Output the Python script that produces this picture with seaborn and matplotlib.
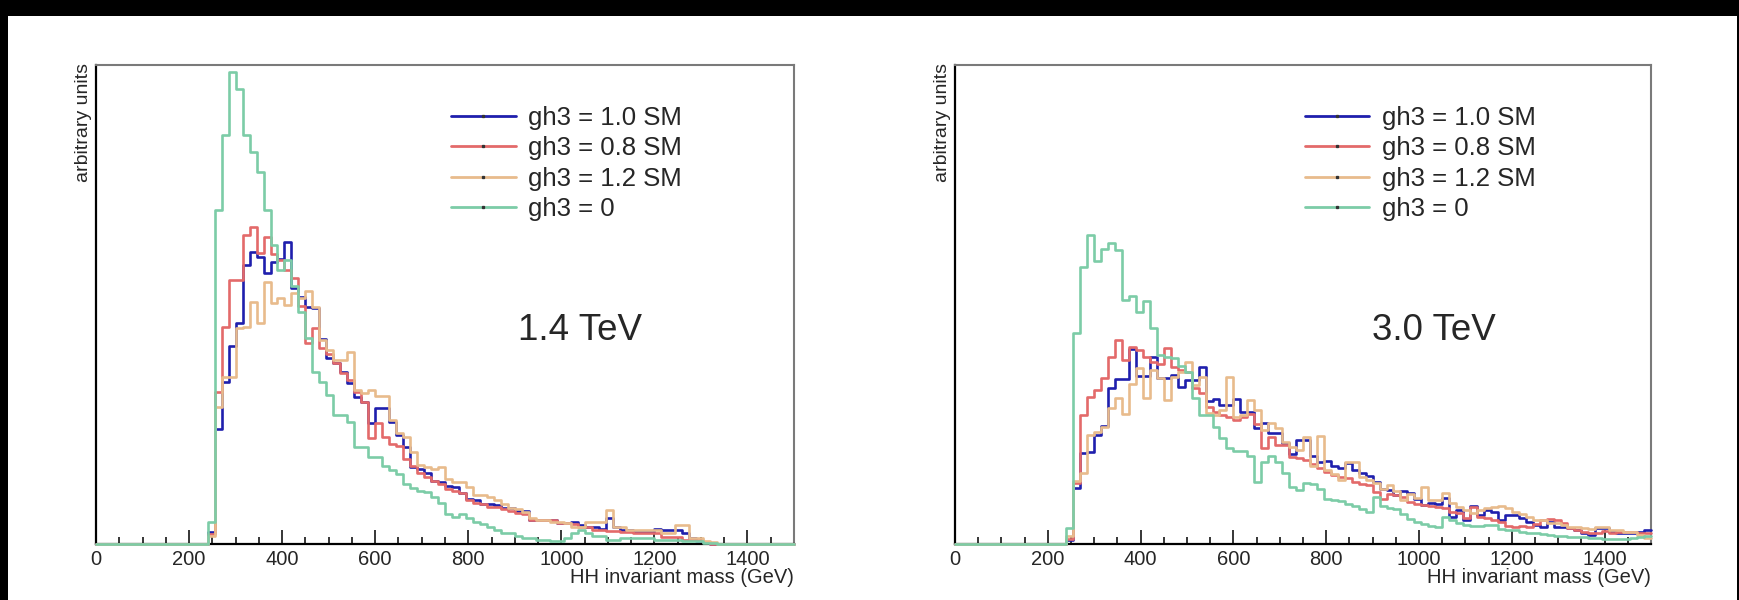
import numpy as np
import pandas as pd
import matplotlib
matplotlib.use("Agg")
import matplotlib.pyplot as plt
from matplotlib.lines import Line2D
from matplotlib.patches import Rectangle
from matplotlib.ticker import MultipleLocator
import seaborn as sns

sns.set_theme(style="white")
plt.rcParams["font.family"] = ["Liberation Sans", "DejaVu Sans"]

# Histogram binning: 100 bins of 15 GeV from 0 to 1500 GeV
BIN_WIDTH = 15.0
X_MAX = 1500.0
FIRST_BIN = 240.0  # lower edge of the first stored bin of every series

series_labels = ["gh3 = 1.0 SM", "gh3 = 0.8 SM", "gh3 = 1.2 SM", "gh3 = 0"]
series_colors = ["#1f1fad", "#e36a6a", "#e8bb8c", "#7ccca7"]
panel_titles = ["1.4 TeV", "3.0 TeV"]
x_ticks = [0, 200, 400, 600, 800, 1000, 1200, 1400]

# 1.4 TeV bin contents (arbitrary units), bins from 240 GeV upward
tev14_sm10 = [12, 115, 162, 198, 221, 279, 292, 287, 271, 282, 285, 302, 256, 247, 237,
              236, 205, 186, 181, 172, 161, 147, 142, 121, 136, 136, 122, 109, 97, 77,
              75, 71, 63, 62, 58, 57, 51, 45, 44, 40, 40, 39, 36, 36, 33,
              33, 24, 24, 24, 24, 21, 21, 22, 19, 17, 17, 15, 26, 17, 14,
              14, 12, 12, 12, 15, 14, 14, 14, 11, 6, 3, 2, 0]
tev14_sm08 = [10, 152, 217, 264, 264, 309, 317, 291, 307, 290, 284, 274, 266, 238, 201,
              216, 196, 190, 181, 171, 164, 152, 142, 106, 121, 107, 100, 98, 85, 78,
              71, 67, 63, 60, 55, 53, 51, 44, 41, 40, 37, 37, 35, 33, 31,
              30, 24, 24, 24, 24, 21, 21, 20, 17, 17, 14, 14, 13, 13, 12,
              12, 11, 11, 11, 11, 7, 7, 7, 4, 4, 4, 2, 0]
tev14_sm12 = [8, 137, 167, 167, 216, 217, 242, 221, 262, 241, 246, 239, 251, 246, 253,
              237, 204, 194, 184, 184, 192, 154, 151, 154, 148, 148, 124, 111, 107, 92,
              79, 77, 75, 77, 65, 62, 62, 57, 49, 49, 47, 44, 40, 36, 35,
              32, 26, 24, 24, 22, 22, 21, 17, 17, 22, 22, 22, 34, 17, 17,
              14, 14, 14, 14, 14, 11, 11, 19, 19, 6, 6, 3, 2]
tev14_zero = [22, 334, 409, 472, 455, 409, 392, 372, 334, 299, 274, 284, 258, 232, 206,
              172, 162, 149, 129, 129, 122, 97, 97, 87, 87, 78, 74, 70, 60, 56,
              53, 52, 47, 41, 30, 27, 30, 26, 22, 20, 17, 14, 11, 11, 8,
              6, 6, 4, 4, 3, 3, 6, 11, 14, 11, 8, 8, 4, 4, 6,
              6, 6, 6, 6, 4, 4, 4, 4, 3, 3, 3, 1, 1]

# 3.0 TeV bin contents (arbitrary units), bins from 240 GeV upward
tev30_sm10 = [4, 56, 91, 92, 109, 118, 156, 165, 165, 195, 168, 168, 187, 166, 166,
              169, 157, 164, 164, 177, 143, 145, 139, 139, 145, 132, 132, 116, 121, 111,
              111, 101, 90, 104, 104, 88, 82, 83, 78, 76, 81, 74, 71, 68, 62,
              55, 54, 49, 53, 51, 45, 39, 41, 40, 46, 27, 34, 24, 38, 29,
              34, 32, 24, 29, 29, 26, 22, 19, 17, 22, 17, 17, 16, 14, 11,
              9, 16, 16, 12, 11, 11, 11, 12, 14]
tev30_sm08 = [5, 61, 129, 147, 154, 166, 187, 204, 184, 197, 194, 187, 182, 180, 196,
              177, 174, 172, 156, 151, 137, 132, 129, 127, 124, 127, 130, 120, 96, 107,
              99, 99, 87, 86, 84, 80, 76, 72, 69, 67, 66, 62, 60, 59, 52,
              45, 50, 49, 47, 42, 40, 39, 38, 37, 36, 32, 31, 26, 37, 27,
              26, 24, 22, 18, 17, 18, 17, 20, 24, 25, 24, 21, 16, 14, 12,
              11, 11, 13, 11, 12, 12, 12, 11, 11]
tev30_sm12 = [8, 63, 71, 109, 112, 117, 136, 146, 130, 160, 176, 146, 174, 166, 144,
              167, 172, 182, 159, 167, 131, 129, 134, 167, 127, 129, 144, 134, 114, 121,
              116, 102, 97, 94, 107, 78, 108, 74, 70, 64, 82, 82, 67, 64, 61,
              55, 59, 53, 44, 50, 46, 57, 44, 44, 51, 41, 37, 34, 31, 34,
              36, 37, 38, 36, 32, 30, 27, 24, 24, 21, 21, 19, 17, 17, 16,
              15, 17, 17, 14, 14, 12, 12, 9, 6]
tev30_zero = [16, 211, 277, 309, 283, 295, 301, 294, 244, 248, 232, 243, 216, 189, 187,
              186, 178, 172, 146, 129, 129, 117, 106, 96, 93, 93, 88, 62, 82, 88,
              82, 71, 57, 54, 61, 60, 55, 45, 44, 43, 40, 38, 35, 32, 47,
              38, 36, 35, 30, 25, 22, 20, 18, 17, 27, 24, 21, 19, 18, 18,
              19, 19, 15, 14, 14, 12, 11, 11, 10, 9, 8, 8, 7, 7, 7,
              6, 6, 5, 5, 5, 5, 6, 7, 8]

panels = [
    [tev14_sm10, tev14_sm08, tev14_sm12, tev14_zero],
    [tev30_sm10, tev30_sm08, tev30_sm12, tev30_zero],
]

n_bins = int(round(X_MAX / BIN_WIDTH))
centers = BIN_WIDTH * (np.arange(n_bins) + 0.5)


def histogram_frame(contents):
    """Long-form table of bin centres and bin contents over the full axis range."""
    full = np.zeros(n_bins)
    start = int(round(FIRST_BIN / BIN_WIDTH))
    full[start:start + len(contents)] = contents
    return pd.DataFrame({"mass": centers, "content": full})


W, H = 1739, 600
fig = plt.figure(figsize=(W / 100, H / 100), dpi=100)
fig.patch.set_facecolor("white")


def axes_px(left, top, right, bottom):
    return fig.add_axes([left / W, 1 - bottom / H, (right - left) / W, (bottom - top) / H])


axes = [axes_px(96, 65, 794, 544), axes_px(955, 65, 1651, 544)]
legend_x = [0.509, 0.503]
title_x = [0.605, 0.599]

for ax, series, title, lx, tx in zip(axes, panels, panel_titles, legend_x, title_x):
    for contents, color in zip(series, series_colors):
        sns.histplot(data=histogram_frame(contents), x="mass", weights="content",
                     binwidth=BIN_WIDTH, binrange=(0.0, X_MAX), element="step",
                     fill=False, color=color, linewidth=1.9, ax=ax, zorder=3,
                     clip_on=False)

    ax.set_xlim(0, X_MAX)
    ax.set_ylim(0, 479)
    ax.set_xlabel("")
    ax.set_ylabel("")
    ax.set_yticks([])
    ax.set_xticks(x_ticks)
    ax.set_xticklabels([str(t) for t in x_ticks])
    ax.xaxis.set_minor_locator(MultipleLocator(50))
    ax.tick_params(axis="x", which="major", direction="in", length=10, width=1.1,
                   pad=4, labelsize=14.5, bottom=True, top=False, color="black")
    ax.tick_params(axis="x", which="minor", direction="in", length=5, width=1.1,
                   bottom=True, top=False, color="black")

    for side in ("left", "bottom"):
        ax.spines[side].set_color("black")
        ax.spines[side].set_linewidth(1.6)
    for side in ("top", "right"):
        ax.spines[side].set_color("#7a7a7a")
        ax.spines[side].set_linewidth(1.5)

    ax.text(1.0, -0.069, "HH invariant mass (GeV)", transform=ax.transAxes,
            ha="right", va="center", fontsize=14.5)
    ax.text(-0.018, 1.004, "arbitrary units", transform=ax.transAxes, rotation=90,
            ha="center", va="top", fontsize=14)
    ax.text(tx, 0.445, title, transform=ax.transAxes, ha="left", va="center",
            fontsize=26.5)

    handles = [Line2D([], [], color=c, linewidth=2, marker="s", markersize=1.4,
                      markerfacecolor="#333333", markeredgecolor="#333333")
               for c in series_colors]
    ax.legend(handles, series_labels, loc="upper left", bbox_to_anchor=(lx, 0.914),
              frameon=False, fontsize=18.5, handlelength=2.5, handletextpad=0.5,
              labelspacing=0.24, borderpad=0, borderaxespad=0, numpoints=1)

# dark frame band along the top and sides of the canvas
for x0, y0, w, h in [(0, H - 16, W, 16), (0, 0, 8, H), (W - 2, 0, 2, H)]:
    fig.patches.append(Rectangle((x0 / W, y0 / H), w / W, h / H, transform=fig.transFigure,
                                 facecolor="black", edgecolor="none", zorder=10))

fig.savefig("out.png", dpi=100)
